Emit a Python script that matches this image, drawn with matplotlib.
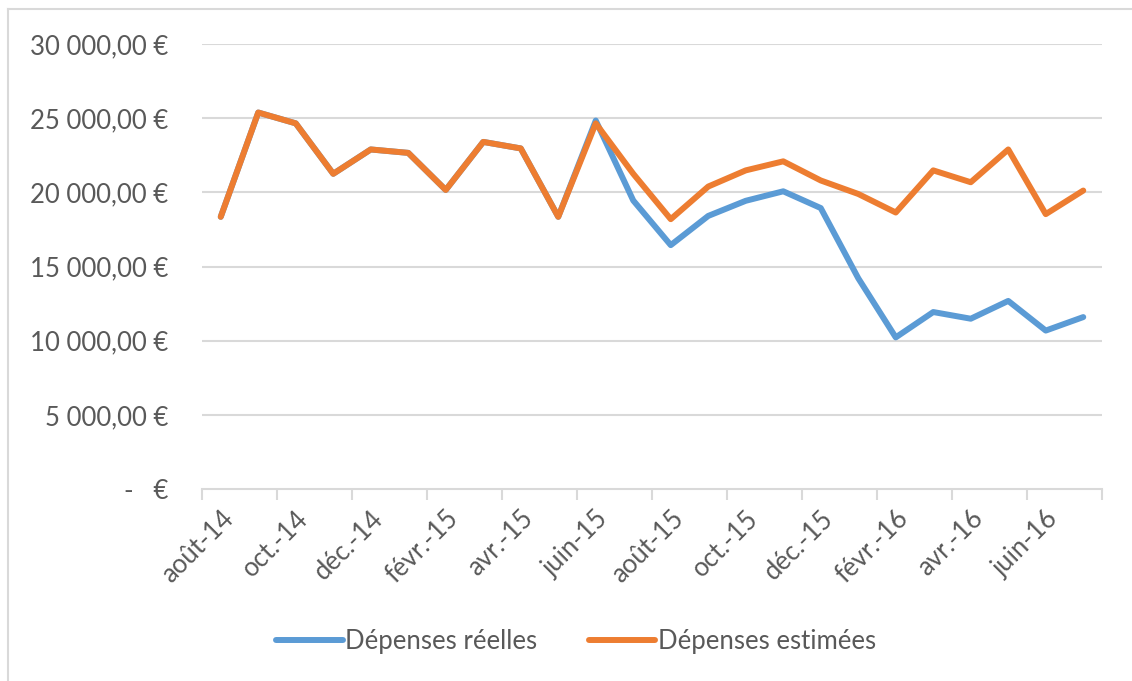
import matplotlib.pyplot as plt
from matplotlib.lines import Line2D

# Monthly data, août-14 to juil.-16
months = ["août-14", "sept.-14", "oct.-14", "nov.-14", "déc.-14", "janv.-15",
          "févr.-15", "mars-15", "avr.-15", "mai-15", "juin-15", "juil.-15",
          "août-15", "sept.-15", "oct.-15", "nov.-15", "déc.-15", "janv.-16",
          "févr.-16", "mars-16", "avr.-16", "mai-16", "juin-16", "juil.-16"]

depenses_estimees = [18350, 25380, 24650, 21250, 22890, 22660, 20160, 23400,
                     22960, 18350, 24650, 21250, 18190, 20390, 21480, 22090,
                     20800, 19890, 18640, 21480, 20680, 22890, 18530, 20120]

depenses_reelles = [18350, 25380, 24650, 21250, 22890, 22660, 20160, 23400,
                    22960, 18350, 24840, 19450, 16440, 18410, 19430, 20070,
                    18940, 14210, 10220, 11930, 11480, 12680, 10680, 11590]

y_ticks = [0, 5000, 10000, 15000, 20000, 25000, 30000]
y_labels = ["-   €", "5 000,00 €", "10 000,00 €", "15 000,00 €",
            "20 000,00 €", "25 000,00 €", "30 000,00 €"]

BLUE = "#5B9BD5"
ORANGE = "#ED7D31"
GRID = "#D9D9D9"
TEXT = "#595959"
FS = 18.5

plt.rcParams['font.family'] = ['Lato', 'DejaVu Sans']

fig = plt.figure(figsize=(11.32, 6.81), dpi=100)
ax = fig.add_axes([202 / 1132, 1 - 489 / 681, 900 / 1132, 445 / 681])

x = list(range(len(months)))
ax.plot(x, depenses_reelles, color=BLUE, lw=4.3, solid_joinstyle='round',
        solid_capstyle='round', label="Dépenses réelles", zorder=3)
ax.plot(x, depenses_estimees, color=ORANGE, lw=4.3, solid_joinstyle='round',
        solid_capstyle='round', label="Dépenses estimées", zorder=4)

ax.set_xlim(-0.5, len(months) - 0.5)
ax.set_ylim(0, 30000)

# y axis
ax.set_yticks(y_ticks)
ax.set_yticklabels(y_labels)
ax.tick_params(axis='y', length=0, pad=24.5, labelsize=FS, labelcolor=TEXT)
for v in y_ticks[1:]:
    ax.axhline(v, color=GRID, lw=1.5, zorder=1)

# x axis: ticks at category boundaries, labels every 2 months
ax.set_xticks([i - 0.5 for i in range(0, len(months) + 1, 2)])
ax.set_xticklabels([])
ax.set_xticks(x[::2], minor=True)
ax.set_xticklabels(months[::2], minor=True, rotation=45, ha='right',
                   rotation_mode='anchor')
ax.tick_params(axis='x', which='major', length=8, width=1.5, color=GRID)
ax.tick_params(axis='x', which='minor', length=0, pad=12, labelsize=FS,
               labelcolor=TEXT)

for s in ['top', 'right', 'left']:
    ax.spines[s].set_visible(False)
ax.spines['bottom'].set_color(GRID)
ax.spines['bottom'].set_linewidth(1.5)

# legend
handles = [Line2D([], [], color=BLUE, lw=4.3, solid_capstyle='round'),
           Line2D([], [], color=ORANGE, lw=4.3, solid_capstyle='round')]
fig.legend(handles, ["Dépenses réelles", "Dépenses estimées"], loc='center',
           bbox_to_anchor=(576 / 1132, 1 - 641 / 681), ncol=2, frameon=False,
           fontsize=FS, labelcolor=TEXT, handlelength=2.6,
           handletextpad=0.1, columnspacing=2.0)

# chart border (left and top visible)
fig.add_artist(Line2D([8 / 1132, 1], [1 - 9 / 681, 1 - 9 / 681],
                      color=GRID, lw=1.5, transform=fig.transFigure))
fig.add_artist(Line2D([8 / 1132, 8 / 1132], [0, 1 - 9 / 681],
                      color=GRID, lw=1.5, transform=fig.transFigure))

fig.savefig("out.png", dpi=100)
